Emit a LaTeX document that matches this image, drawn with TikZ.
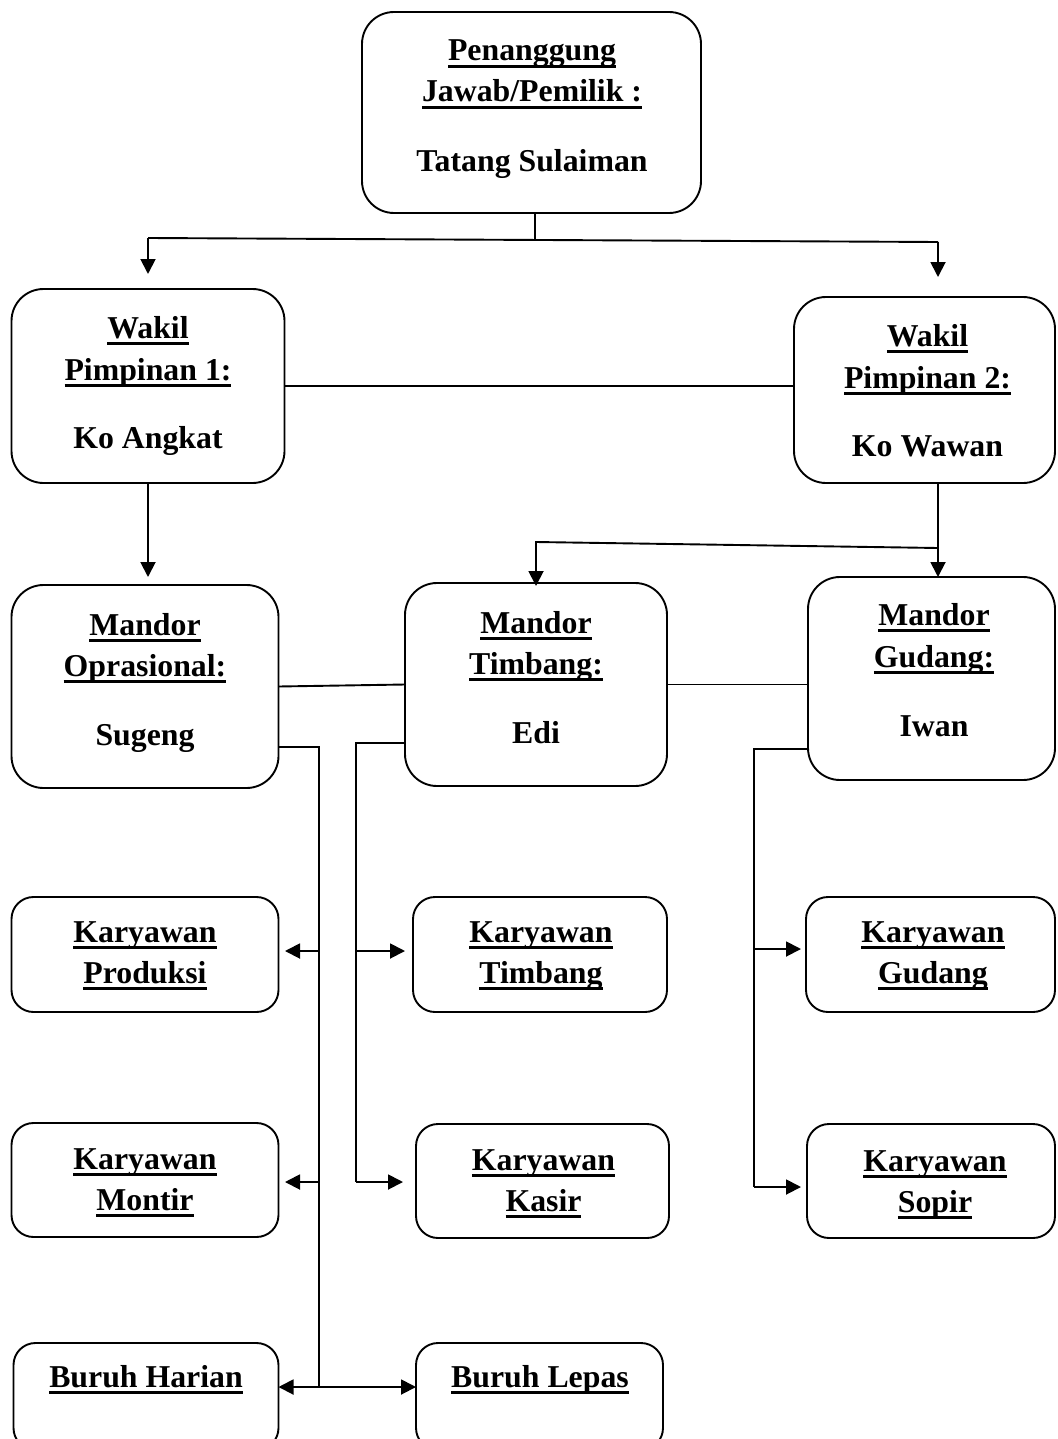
\documentclass[tikz,border=0pt]{standalone}
\usepackage{fontspec}
\setmainfont{Liberation Serif}
\usetikzlibrary{arrows.meta}
\newcommand{\myul}[1]{\setbox0\hbox{#1}\rlap{\rule[-6.8pt]{\wd0}{2.6pt}}\box0}
\begin{document}
\begin{tikzpicture}[x=1pt,y=-1pt,
  box/.style={draw, line width=1.9pt, rounded corners=32pt, outer sep=0pt, inner sep=0pt},
  sbox/.style={draw, line width=1.9pt, rounded corners=22pt, outer sep=0pt, inner sep=0pt},
  txt/.style={anchor=base, inner sep=0pt, font=\fontsize{31.8}{38}\selectfont\bfseries},
  ln/.style={line width=1.9pt},
  arr/.style={line width=1.9pt, -{Triangle[length=15pt,width=15pt]}},
  arrb/.style={line width=1.9pt, {Triangle[length=15pt,width=15pt]}-{Triangle[length=15pt,width=15pt]}}]
\useasboundingbox (0,0) rectangle (1057,1439);
\clip (0,0) rectangle (1057,1439);
% boxes
\node[box, minimum width=339pt, minimum height=201pt] (top) at (531.5,112.5) {};
\node[box, minimum width=273pt, minimum height=194pt] (w1) at (148,386) {};
\node[box, minimum width=261pt, minimum height=186pt] (w2) at (924.5,390) {};
\node[box, minimum width=267pt, minimum height=203pt] (m1) at (145,686.5) {};
\node[box, minimum width=262pt, minimum height=203pt] (m2) at (536,684.5) {};
\node[box, minimum width=247pt, minimum height=203pt] (m3) at (931.5,678.5) {};
\node[sbox, minimum width=267pt, minimum height=115pt] (k1) at (145,954.5) {};
\node[sbox, minimum width=254pt, minimum height=115pt] (k2) at (540,954.5) {};
\node[sbox, minimum width=249pt, minimum height=115pt] (k3) at (930.5,954.5) {};
\node[sbox, minimum width=267pt, minimum height=114pt] (k4) at (145,1180) {};
\node[sbox, minimum width=253pt, minimum height=114pt] (k5) at (542.5,1181) {};
\node[sbox, minimum width=248pt, minimum height=114pt] (k6) at (931,1181) {};
\node[sbox, minimum width=265pt, minimum height=107pt] (b1) at (146,1396.5) {};
\node[sbox, minimum width=247pt, minimum height=107pt] (b2) at (539.5,1396.5) {};
% texts
\node[txt] (ta) at (532,61) {\myul{Penanggung}};
\node[txt] (tb) at (532,102) {\myul{Jawab/Pemilik :}};
\node[txt] (tc) at (532,172) {Tatang Sulaiman};
\node[txt] (w1a) at (148,338) {\myul{Wakil}};
\node[txt] (w1b) at (148,380) {\myul{Pimpinan 1:}};
\node[txt] (w1c) at (148,448) {Ko Angkat};
\node[txt] (w2a) at (927.5,346) {\myul{Wakil}};
\node[txt] (w2b) at (927.5,388) {\myul{Pimpinan 2:}};
\node[txt] (w2c) at (927.5,456) {Ko Wawan};
\node[txt] (m1a) at (145,635) {\myul{Mandor}};
\node[txt] (m1b) at (145,676) {\myul{Oprasional:}};
\node[txt] (m1c) at (145,745) {Sugeng};
\node[txt] (m2a) at (536,633) {\myul{Mandor}};
\node[txt] (m2b) at (536,674) {\myul{Timbang:}};
\node[txt] (m2c) at (536,743) {Edi};
\node[txt] (m3a) at (934,625) {\myul{Mandor}};
\node[txt] (m3b) at (934,667) {\myul{Gudang:}};
\node[txt] (m3c) at (934,736) {Iwan};
\node[txt] (k1a) at (145,942) {\myul{Karyawan}};
\node[txt] (k1b) at (145,983) {\myul{Produksi}};
\node[txt] (k2a) at (541,942) {\myul{Karyawan}};
\node[txt] (k2b) at (541,983) {\myul{Timbang}};
\node[txt] (k3a) at (933,942) {\myul{Karyawan}};
\node[txt] (k3b) at (933,983) {\myul{Gudang}};
\node[txt] (k4a) at (145,1169) {\myul{Karyawan}};
\node[txt] (k4b) at (145,1210) {\myul{Montir}};
\node[txt] (k5a) at (543.5,1170) {\myul{Karyawan}};
\node[txt] (k5b) at (543.5,1211) {\myul{Kasir}};
\node[txt] (k6a) at (935,1171) {\myul{Karyawan}};
\node[txt] (k6b) at (935,1212) {\myul{Sopir}};
\node[txt] (b1a) at (146,1387) {\myul{Buruh Harian}};
\node[txt] (b2a) at (540,1387) {\myul{Buruh Lepas}};
% connectors: top level
\coordinate (j0) at (535,240);
\coordinate (jl) at (148,238);
\coordinate (jr) at (938,242);
\coordinate (tl) at (148,274);
\coordinate (tr) at (938,277);
\draw[ln] (top.south -| j0) -- (j0);
\draw[ln] (jl) -- (jr);
\draw[arr] (jl) -- (tl);
\draw[arr] (jr) -- (tr);
\draw[ln] (w1.east) -- (w1.east -| w2.west);
% wakil to mandor
\coordinate (wl) at (148,577);
\draw[arr] (w1.south) -- (wl);
\coordinate (c2) at (938,548);
\coordinate (c3) at (536,542);
\coordinate (c4) at (536,586);
\coordinate (c5) at (938,577);
\draw[arr] (w2.south -| c2) -- (c5);
\draw[arr] (c2) -- (c3) -- (c4);
\draw[ln] (m1.east) -- (m2.west);
\draw[ln] (m2.east) -- (m2.east -| m3.west);
% mandor oprasional branch
\coordinate (v1) at (319,747);
\coordinate (v1e) at (319,1387);
\draw[ln] (m1.east |- v1) -- (v1) -- (v1e);
\draw[arr] (319,951) -- (285,951);
\draw[arr] (319,1182) -- (285,1182);
\draw[arrb] (v1e -| b1.east) -- (v1e -| b2.west);
% mandor timbang branch
\coordinate (v2) at (356,743);
\coordinate (v2e) at (356,1182);
\draw[ln] (m2.west |- v2) -- (v2) -- (v2e);
\draw[arr] (356,951) -- (405,951);
\draw[arr] (v2e) -- (403,1182);
% mandor gudang branch
\coordinate (v3) at (754,749);
\coordinate (v3e) at (754,1187);
\draw[ln] (m3.west |- v3) -- (v3) -- (v3e);
\draw[arr] (754,949) -- (801,949);
\draw[arr] (v3e) -- (801,1187);
\end{tikzpicture}
\end{document}
